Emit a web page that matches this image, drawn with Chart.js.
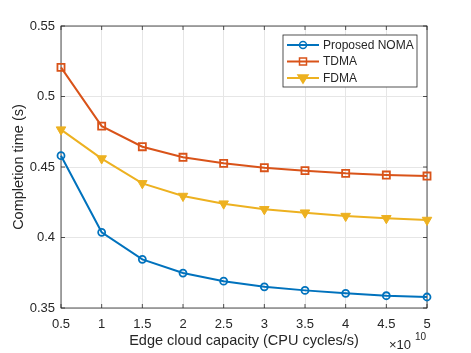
<!DOCTYPE html>
<html lang="en">
<head>
<meta charset="UTF-8">
<script src="https://cdn.jsdelivr.net/npm/chart.js"></script>
<style>
  html, body { margin: 0; padding: 0; background: #fff; }
  #wrap { width: 471px; height: 353px; }
</style>
</head>
<body>
<div id="wrap"><canvas id="myChart" width="471" height="353"></canvas></div>
<script>
// edge cloud capacity (x 1e10 CPU cycles/s)
const capacity = [0.5, 1, 1.5, 2, 2.5, 3, 3.5, 4, 4.5, 5];
const nomaTime = [0.458, 0.4037, 0.3845, 0.3748, 0.369, 0.365, 0.3625, 0.3604, 0.3587, 0.3578];
const tdmaTime = [0.5207, 0.479, 0.4644, 0.4569, 0.4526, 0.4495, 0.4474, 0.4455, 0.4443, 0.4436];
const fdmaTime = [0.4765, 0.456, 0.4384, 0.4294, 0.424, 0.420, 0.4176, 0.4152, 0.4136, 0.4124];
const seriesNames = ['Proposed NOMA', 'TDMA', 'FDMA'];
const yTicks = [0.35, 0.4, 0.45, 0.5, 0.55];

const blue = '#0072BD', orange = '#D95319', yellow = '#EDB120';
const axisColor = '#262626';
const font = 'Liberation Sans, Arial, Helvetica, sans-serif';

function pts(ys) {
  return capacity.map((x, i) => ({ x: x, y: ys[i] }));
}

// draws a marker like matlab does, used in legend
function marker(ctx, style, x, y, color) {
  ctx.save();
  ctx.strokeStyle = color;
  ctx.fillStyle = color;
  ctx.lineWidth = 1.5;
  ctx.beginPath();
  if (style === 'circle') {
    ctx.arc(x, y, 3.5, 0, Math.PI * 2);
    ctx.stroke();
  } else if (style === 'rect') {
    ctx.rect(x - 3.5, y - 3.5, 7, 7);
    ctx.stroke();
  } else {
    ctx.moveTo(x - 5, y - 3);
    ctx.lineTo(x + 5, y - 3);
    ctx.lineTo(x, y + 5);
    ctx.closePath();
    ctx.fill();
    ctx.stroke();
  }
  ctx.restore();
}

const matlabBox = {
  id: 'matlabBox',
  beforeDatasetsDraw(chart) {
    const ctx = chart.ctx, a = chart.chartArea;
    const xs = chart.scales.x, ys = chart.scales.y;
    ctx.save();
    ctx.strokeStyle = axisColor;
    ctx.lineWidth = 0.8;
    ctx.strokeRect(a.left, a.top, a.right - a.left, a.bottom - a.top);
    ctx.beginPath();
    xs.ticks.forEach(t => {
      const px = xs.getPixelForValue(t.value);
      ctx.moveTo(px, a.bottom); ctx.lineTo(px, a.bottom - 4);
      ctx.moveTo(px, a.top); ctx.lineTo(px, a.top + 4);
    });
    ys.ticks.forEach(t => {
      const py = ys.getPixelForValue(t.value);
      ctx.moveTo(a.left, py); ctx.lineTo(a.left + 4, py);
      ctx.moveTo(a.right, py); ctx.lineTo(a.right - 4, py);
    });
    ctx.stroke();
    ctx.restore();
  },
  afterDatasetsDraw(chart) {
    const ctx = chart.ctx;
    // exponent label
    ctx.save();
    ctx.fillStyle = axisColor;
    ctx.textBaseline = 'alphabetic';
    ctx.font = '13px ' + font;
    ctx.fillText('\u00d710', 389, 349);
    ctx.font = '10px ' + font;
    ctx.fillText('10', 415, 340);

    // legend
    const lx = 283, ly = 35, lw = 134, lh = 52;
    ctx.fillStyle = '#fff';
    ctx.fillRect(lx, ly, lw, lh);
    ctx.strokeStyle = axisColor;
    ctx.lineWidth = 0.8;
    ctx.strokeRect(lx, ly, lw, lh);
    ctx.font = '12px ' + font;
    ctx.textBaseline = 'middle';
    chart.data.datasets.forEach((ds, i) => {
      const y = 45 + i * 16.5;
      ctx.strokeStyle = ds.borderColor;
      ctx.lineWidth = 2;
      ctx.beginPath();
      ctx.moveTo(287, y);
      ctx.lineTo(319, y);
      ctx.stroke();
      marker(ctx, ds.pointStyle, 303, y, ds.borderColor);
      ctx.fillStyle = axisColor;
      ctx.fillText(seriesNames[i], 323, y + 0.5);
    });
    ctx.restore();
  }
};

const config = {
  type: 'line',
  data: {
    datasets: [{
      label: seriesNames[0],
      data: pts(nomaTime),
      borderColor: blue,
      backgroundColor: 'transparent',
      pointStyle: 'circle',
      pointRadius: 3.5,
      pointBorderWidth: 1.8,
      pointBackgroundColor: 'transparent',
      borderWidth: 2,
      clip: false
    }, {
      label: seriesNames[1],
      data: pts(tdmaTime),
      borderColor: orange,
      backgroundColor: 'transparent',
      pointStyle: 'rect',
      pointRadius: 5,
      pointBorderWidth: 1.8,
      pointBackgroundColor: 'transparent',
      borderWidth: 2,
      clip: false
    }, {
      label: seriesNames[2],
      data: pts(fdmaTime),
      borderColor: yellow,
      backgroundColor: yellow,
      pointStyle: 'triangle',
      pointRotation: 180,
      pointRadius: 5.5,
      pointBorderWidth: 1,
      pointBackgroundColor: yellow,
      borderWidth: 2,
      clip: false
    }]
  },
  options: {
    responsive: false,
    animation: false,
    layout: { padding: { left: 0, top: 26, right: 44, bottom: 0 } },
    plugins: { legend: { display: false }, tooltip: { enabled: false } },
    scales: {
      x: {
        type: 'linear',
        min: 0.5, max: 5,
        afterFit(s) { s.height = 45; },
        border: { display: false },
        grid: { color: '#e6e6e6', drawTicks: false, lineWidth: 1 },
        ticks: {
          stepSize: 0.5, padding: 9, color: axisColor,
          font: { family: font, size: 13 },
          maxRotation: 0,
          callback: v => String(Math.round(v * 10) / 10)
        },
        title: {
          display: true, text: 'Edge cloud capacity (CPU cycles/s)',
          color: axisColor, font: { family: font, size: 14.5 },
          padding: { top: 0, bottom: 3 }
        }
      },
      y: {
        min: 0.35, max: 0.55,
        afterFit(s) { s.width = 61; },
        afterBuildTicks(s) { s.ticks = yTicks.map(v => ({ value: v })); },
        border: { display: false },
        grid: { color: '#e6e6e6', drawTicks: false, lineWidth: 1 },
        ticks: {
          padding: 6, color: axisColor,
          font: { family: font, size: 13 },
          callback: v => String(Math.round(v * 100) / 100)
        },
        title: {
          display: true, text: 'Completion time (s)',
          color: axisColor, font: { family: font, size: 14.5 },
          padding: { top: 10, bottom: 0 }
        }
      }
    }
  },
  plugins: [matlabBox]
};

new Chart(document.getElementById('myChart'), config);
</script>
</body>
</html>
